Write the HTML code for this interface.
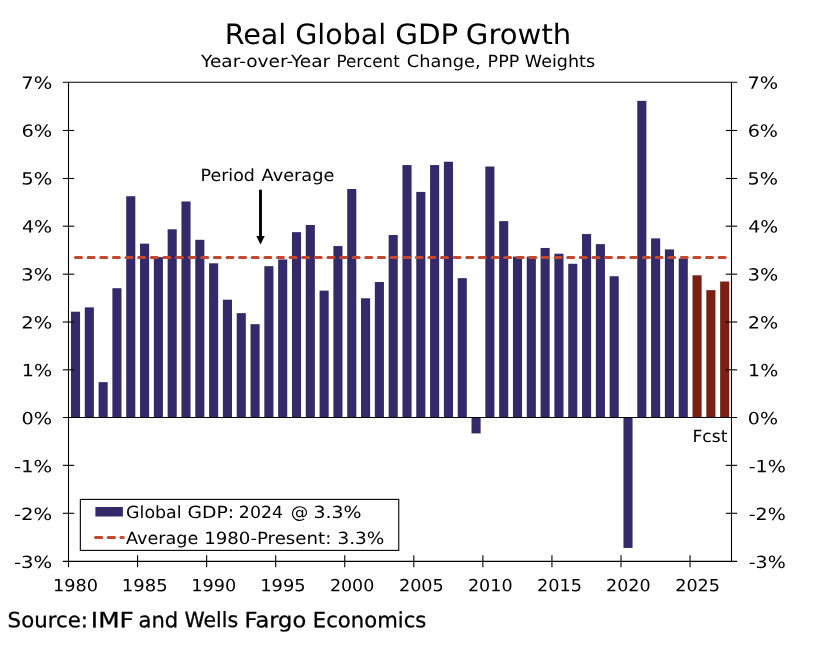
<!DOCTYPE html>
<html lang="en">
<head>
<meta charset="utf-8">
<title>Real Global GDP Growth</title>
<style>
html,body{margin:0;padding:0;background:#fff;}
body{width:820px;height:646px;overflow:hidden;}
svg{display:block;}
text{font-family:"DejaVu Sans", "Liberation Sans", sans-serif;fill:#000;stroke:none;text-rendering:geometricPrecision;}
#src{stroke:#000;stroke-width:0.3px;}
</style>
</head>
<body>
<svg width="820" height="646" viewBox="0 0 820 646">
<rect x="0" y="0" width="820" height="646" fill="#ffffff"/>

<g id="bars">
<rect x="70.96" y="311.70" width="9.10" height="105.80" fill="#342a6a"/>
<rect x="84.77" y="307.38" width="9.10" height="110.12" fill="#342a6a"/>
<rect x="98.58" y="382.14" width="9.10" height="35.36" fill="#342a6a"/>
<rect x="112.39" y="288.22" width="9.10" height="129.28" fill="#342a6a"/>
<rect x="126.21" y="196.21" width="9.10" height="221.29" fill="#342a6a"/>
<rect x="140.02" y="243.65" width="9.10" height="173.85" fill="#342a6a"/>
<rect x="153.83" y="257.07" width="9.10" height="160.43" fill="#342a6a"/>
<rect x="167.64" y="229.27" width="9.10" height="188.23" fill="#342a6a"/>
<rect x="181.46" y="201.48" width="9.10" height="216.02" fill="#342a6a"/>
<rect x="195.27" y="239.82" width="9.10" height="177.68" fill="#342a6a"/>
<rect x="209.08" y="263.30" width="9.10" height="154.20" fill="#342a6a"/>
<rect x="222.89" y="299.72" width="9.10" height="117.78" fill="#342a6a"/>
<rect x="236.71" y="313.13" width="9.10" height="104.37" fill="#342a6a"/>
<rect x="250.52" y="324.16" width="9.10" height="93.34" fill="#342a6a"/>
<rect x="264.33" y="266.17" width="9.10" height="151.33" fill="#342a6a"/>
<rect x="278.14" y="259.46" width="9.10" height="158.04" fill="#342a6a"/>
<rect x="291.96" y="232.15" width="9.10" height="185.35" fill="#342a6a"/>
<rect x="305.77" y="224.96" width="9.10" height="192.54" fill="#342a6a"/>
<rect x="319.58" y="290.61" width="9.10" height="126.89" fill="#342a6a"/>
<rect x="333.39" y="246.05" width="9.10" height="171.45" fill="#342a6a"/>
<rect x="347.21" y="189.02" width="9.10" height="228.48" fill="#342a6a"/>
<rect x="361.02" y="298.28" width="9.10" height="119.22" fill="#342a6a"/>
<rect x="374.83" y="281.99" width="9.10" height="135.51" fill="#342a6a"/>
<rect x="388.64" y="235.02" width="9.10" height="182.48" fill="#342a6a"/>
<rect x="402.46" y="165.06" width="9.10" height="252.44" fill="#342a6a"/>
<rect x="416.27" y="191.90" width="9.10" height="225.60" fill="#342a6a"/>
<rect x="430.08" y="165.06" width="9.10" height="252.44" fill="#342a6a"/>
<rect x="443.89" y="161.71" width="9.10" height="255.79" fill="#342a6a"/>
<rect x="457.71" y="278.15" width="9.10" height="139.35" fill="#342a6a"/>
<rect x="471.52" y="417.50" width="9.10" height="15.91" fill="#342a6a"/>
<rect x="485.33" y="166.50" width="9.10" height="251.00" fill="#342a6a"/>
<rect x="499.14" y="221.13" width="9.10" height="196.37" fill="#342a6a"/>
<rect x="512.96" y="256.59" width="9.10" height="160.91" fill="#342a6a"/>
<rect x="526.77" y="256.59" width="9.10" height="160.91" fill="#342a6a"/>
<rect x="540.58" y="247.96" width="9.10" height="169.54" fill="#342a6a"/>
<rect x="554.39" y="253.71" width="9.10" height="163.79" fill="#342a6a"/>
<rect x="568.21" y="263.78" width="9.10" height="153.72" fill="#342a6a"/>
<rect x="582.02" y="234.07" width="9.10" height="183.43" fill="#342a6a"/>
<rect x="595.83" y="244.13" width="9.10" height="173.37" fill="#342a6a"/>
<rect x="609.64" y="276.24" width="9.10" height="141.26" fill="#342a6a"/>
<rect x="623.46" y="417.50" width="9.10" height="130.44" fill="#342a6a"/>
<rect x="637.27" y="100.85" width="9.10" height="316.65" fill="#342a6a"/>
<rect x="651.08" y="238.38" width="9.10" height="179.12" fill="#342a6a"/>
<rect x="664.89" y="249.40" width="9.10" height="168.10" fill="#342a6a"/>
<rect x="678.71" y="258.51" width="9.10" height="158.99" fill="#342a6a"/>
<rect x="692.52" y="275.28" width="9.10" height="142.22" fill="#7b2015"/>
<rect x="706.33" y="290.13" width="9.10" height="127.37" fill="#7b2015"/>
<rect x="720.14" y="281.51" width="9.10" height="135.99" fill="#7b2015"/>
</g>
<line id="avg" x1="75.5" y1="257.4" x2="725.2" y2="257.4" stroke="#c4482d" stroke-width="3" stroke-linecap="round" stroke-dasharray="6 6.62"/>
<g id="axes" stroke="#000" stroke-width="1.1" fill="none">
<line x1="68.50" y1="82.30" x2="68.50" y2="567.35"/>
<line x1="731.50" y1="82.30" x2="731.50" y2="561.35"/>
<line x1="62.80" y1="82.30" x2="737.20" y2="82.30"/>
<line x1="62.80" y1="561.35" x2="737.20" y2="561.35"/>
<line x1="62.80" y1="417.50" x2="737.20" y2="417.50"/>
<line x1="62.80" y1="513.30" x2="74.20" y2="513.30"/>
<line x1="725.80" y1="513.30" x2="737.20" y2="513.30"/>
<line x1="62.80" y1="465.35" x2="74.20" y2="465.35"/>
<line x1="725.80" y1="465.35" x2="737.20" y2="465.35"/>
<line x1="62.80" y1="369.80" x2="74.20" y2="369.80"/>
<line x1="725.80" y1="369.80" x2="737.20" y2="369.80"/>
<line x1="62.80" y1="322.00" x2="74.20" y2="322.00"/>
<line x1="725.80" y1="322.00" x2="737.20" y2="322.00"/>
<line x1="62.80" y1="274.20" x2="74.20" y2="274.20"/>
<line x1="725.80" y1="274.20" x2="737.20" y2="274.20"/>
<line x1="62.80" y1="226.20" x2="74.20" y2="226.20"/>
<line x1="725.80" y1="226.20" x2="737.20" y2="226.20"/>
<line x1="62.80" y1="178.50" x2="74.20" y2="178.50"/>
<line x1="725.80" y1="178.50" x2="737.20" y2="178.50"/>
<line x1="62.80" y1="130.50" x2="74.20" y2="130.50"/>
<line x1="725.80" y1="130.50" x2="737.20" y2="130.50"/>
<line x1="137.56" y1="555.35" x2="137.56" y2="567.35"/>
<line x1="206.62" y1="555.35" x2="206.62" y2="567.35"/>
<line x1="275.69" y1="555.35" x2="275.69" y2="567.35"/>
<line x1="344.75" y1="555.35" x2="344.75" y2="567.35"/>
<line x1="413.81" y1="555.35" x2="413.81" y2="567.35"/>
<line x1="482.88" y1="555.35" x2="482.88" y2="567.35"/>
<line x1="551.94" y1="555.35" x2="551.94" y2="567.35"/>
<line x1="621.00" y1="555.35" x2="621.00" y2="567.35"/>
<line x1="690.06" y1="555.35" x2="690.06" y2="567.35"/>
</g>
<g id="anno">
<line x1="260.5" y1="189.7" x2="260.5" y2="237.5" stroke="#000" stroke-width="2.9"/>
<polygon points="256.3,236.1 264.7,236.1 260.5,244.4" fill="#000"/>
</g>
<g id="legend">
<rect x="80.35" y="499.4" width="318.4" height="51" fill="#fff" stroke="#000" stroke-width="1.1"/>
<rect x="95.4" y="507" width="27.5" height="9.5" fill="#342a6a"/>
<line x1="95.5" y1="537.4" x2="123.3" y2="537.4" stroke="#c4482d" stroke-width="3" stroke-linecap="round" stroke-dasharray="6.3 6.4"/>
</g>
<g id="labels" transform="matrix(1 0.0005 0 1 0 0)">
<text id="title" font-size="28"><tspan id="title_0" x="224.67" y="43.87" textLength="61.66" lengthAdjust="spacingAndGlyphs">Real</tspan> <tspan id="title_1" x="295.23" y="43.83" textLength="91.08" lengthAdjust="spacingAndGlyphs">Global</tspan> <tspan id="title_2" x="395.17" y="43.79" textLength="63.15" lengthAdjust="spacingAndGlyphs">GDP</tspan> <tspan id="title_3" x="465.86" y="43.74" textLength="105.46" lengthAdjust="spacingAndGlyphs">Growth</tspan></text>
<text id="sub" font-size="16.8"><tspan id="sub_0" x="201.10" y="66.87" textLength="129.06" lengthAdjust="spacingAndGlyphs">Year-over-Year</tspan> <tspan id="sub_1" x="336.44" y="66.82" textLength="63.31" lengthAdjust="spacingAndGlyphs">Percent</tspan> <tspan id="sub_2" x="406.86" y="66.78" textLength="73.69" lengthAdjust="spacingAndGlyphs">Change,</tspan> <tspan id="sub_3" x="487.62" y="66.75" textLength="31.68" lengthAdjust="spacingAndGlyphs">PPP</tspan> <tspan id="sub_4" x="524.84" y="66.72" textLength="70.21" lengthAdjust="spacingAndGlyphs">Weights</tspan></text>
<text id="yl-3" font-size="16.8"><tspan id="yl-3_0" x="14.01" y="568.03" textLength="38.31" lengthAdjust="spacingAndGlyphs">-3%</tspan></text>
<text id="yr-3" font-size="16.8"><tspan id="yr-3_0" x="748.69" y="567.67" textLength="37.01" lengthAdjust="spacingAndGlyphs">-3%</tspan></text>
<text id="yl-2" font-size="16.8"><tspan id="yl-2_0" x="14.01" y="520.10" textLength="38.31" lengthAdjust="spacingAndGlyphs">-2%</tspan></text>
<text id="yr-2" font-size="16.8"><tspan id="yr-2_0" x="748.69" y="519.74" textLength="37.01" lengthAdjust="spacingAndGlyphs">-2%</tspan></text>
<text id="yl-1" font-size="16.8"><tspan id="yl-1_0" x="14.02" y="472.17" textLength="38.26" lengthAdjust="spacingAndGlyphs">-1%</tspan></text>
<text id="yr-1" font-size="16.8"><tspan id="yr-1_0" x="748.70" y="471.81" textLength="37.12" lengthAdjust="spacingAndGlyphs">-1%</tspan></text>
<text id="yl0" font-size="16.8"><tspan id="yl0_0" x="21.58" y="424.24" textLength="30.58" lengthAdjust="spacingAndGlyphs">0%</tspan></text>
<text id="yr0" font-size="16.8"><tspan id="yr0_0" x="747.88" y="423.88" textLength="30.17" lengthAdjust="spacingAndGlyphs">0%</tspan></text>
<text id="yl1" font-size="16.8"><tspan id="yl1_0" x="21.77" y="376.31" textLength="30.38" lengthAdjust="spacingAndGlyphs">1%</tspan></text>
<text id="yr1" font-size="16.8"><tspan id="yr1_0" x="748.07" y="375.95" textLength="30.15" lengthAdjust="spacingAndGlyphs">1%</tspan></text>
<text id="yl2" font-size="16.8"><tspan id="yl2_0" x="21.37" y="328.38" textLength="30.95" lengthAdjust="spacingAndGlyphs">2%</tspan></text>
<text id="yr2" font-size="16.8"><tspan id="yr2_0" x="747.69" y="328.02" textLength="30.41" lengthAdjust="spacingAndGlyphs">2%</tspan></text>
<text id="yl3" font-size="16.8"><tspan id="yl3_0" x="21.28" y="280.45" textLength="30.88" lengthAdjust="spacingAndGlyphs">3%</tspan></text>
<text id="yr3" font-size="16.8"><tspan id="yr3_0" x="747.73" y="280.09" textLength="30.47" lengthAdjust="spacingAndGlyphs">3%</tspan></text>
<text id="yl4" font-size="16.8"><tspan id="yl4_0" x="21.93" y="232.52" textLength="30.30" lengthAdjust="spacingAndGlyphs">4%</tspan></text>
<text id="yr4" font-size="16.8"><tspan id="yr4_0" x="748.15" y="232.16" textLength="29.89" lengthAdjust="spacingAndGlyphs">4%</tspan></text>
<text id="yl5" font-size="16.8"><tspan id="yl5_0" x="21.28" y="184.59" textLength="31.11" lengthAdjust="spacingAndGlyphs">5%</tspan></text>
<text id="yr5" font-size="16.8"><tspan id="yr5_0" x="747.59" y="184.23" textLength="30.49" lengthAdjust="spacingAndGlyphs">5%</tspan></text>
<text id="yl6" font-size="16.8"><tspan id="yl6_0" x="21.52" y="136.66" textLength="30.76" lengthAdjust="spacingAndGlyphs">6%</tspan></text>
<text id="yr6" font-size="16.8"><tspan id="yr6_0" x="747.71" y="136.30" textLength="30.35" lengthAdjust="spacingAndGlyphs">6%</tspan></text>
<text id="yl7" font-size="16.8"><tspan id="yl7_0" x="21.27" y="88.73" textLength="30.99" lengthAdjust="spacingAndGlyphs">7%</tspan></text>
<text id="yr7" font-size="16.8"><tspan id="yr7_0" x="747.45" y="88.37" textLength="30.72" lengthAdjust="spacingAndGlyphs">7%</tspan></text>
<text id="x1980" font-size="16.8"><tspan id="x1980_0" x="52.97" y="591.26" textLength="45.08" lengthAdjust="spacingAndGlyphs">1980</tspan></text>
<text id="x1985" font-size="16.8"><tspan id="x1985_0" x="121.83" y="591.23" textLength="45.80" lengthAdjust="spacingAndGlyphs">1985</tspan></text>
<text id="x1990" font-size="16.8"><tspan id="x1990_0" x="191.17" y="591.19" textLength="45.02" lengthAdjust="spacingAndGlyphs">1990</tspan></text>
<text id="x1995" font-size="16.8"><tspan id="x1995_0" x="260.26" y="591.16" textLength="45.49" lengthAdjust="spacingAndGlyphs">1995</tspan></text>
<text id="x2000" font-size="16.8"><tspan id="x2000_0" x="329.95" y="591.12" textLength="44.38" lengthAdjust="spacingAndGlyphs">2000</tspan></text>
<text id="x2005" font-size="16.8"><tspan id="x2005_0" x="398.95" y="591.09" textLength="44.83" lengthAdjust="spacingAndGlyphs">2005</tspan></text>
<text id="x2010" font-size="16.8"><tspan id="x2010_0" x="467.97" y="591.05" textLength="44.59" lengthAdjust="spacingAndGlyphs">2010</tspan></text>
<text id="x2015" font-size="16.8"><tspan id="x2015_0" x="536.96" y="591.02" textLength="44.97" lengthAdjust="spacingAndGlyphs">2015</tspan></text>
<text id="x2020" font-size="16.8"><tspan id="x2020_0" x="606.11" y="590.99" textLength="44.53" lengthAdjust="spacingAndGlyphs">2020</tspan></text>
<text id="x2025" font-size="16.8"><tspan id="x2025_0" x="675.18" y="590.95" textLength="44.83" lengthAdjust="spacingAndGlyphs">2025</tspan></text>
<text id="pa" font-size="16.8"><tspan id="pa_0" x="200.52" y="180.79" textLength="54.38" lengthAdjust="spacingAndGlyphs">Period</tspan> <tspan id="pa_1" x="261.57" y="180.75" textLength="72.84" lengthAdjust="spacingAndGlyphs">Average</tspan></text>
<text id="fc" font-size="16.8"><tspan id="fc_0" x="692.45" y="441.54" textLength="34.91" lengthAdjust="spacingAndGlyphs">Fcst</tspan></text>
<text id="l1" font-size="16.8"><tspan id="l1_0" x="126.14" y="517.92" textLength="55.46" lengthAdjust="spacingAndGlyphs">Global</tspan> <tspan id="l1_1" x="187.44" y="517.89" textLength="46.66" lengthAdjust="spacingAndGlyphs">GDP:</tspan> <tspan id="l1_2" x="238.85" y="517.87" textLength="44.18" lengthAdjust="spacingAndGlyphs">2024</tspan> <tspan id="l1_3" x="290.81" y="517.85" textLength="17.57" lengthAdjust="spacingAndGlyphs">@</tspan> <tspan id="l1_4" x="313.41" y="517.83" textLength="48.05" lengthAdjust="spacingAndGlyphs">3.3%</tspan></text>
<text id="l2" font-size="16.8"><tspan id="l2_0" x="126.10" y="543.92" textLength="72.26" lengthAdjust="spacingAndGlyphs">Average</tspan> <tspan id="l2_1" x="204.20" y="543.87" textLength="127.08" lengthAdjust="spacingAndGlyphs">1980-Present:</tspan> <tspan id="l2_2" x="337.43" y="543.82" textLength="46.96" lengthAdjust="spacingAndGlyphs">3.3%</tspan></text>
<text id="src" font-size="21"><tspan id="src_0" x="7.61" y="627.28" textLength="80.34" lengthAdjust="spacingAndGlyphs">Source:</tspan> <tspan id="src_1" x="90.82" y="627.24" textLength="43.03" lengthAdjust="spacingAndGlyphs">IMF</tspan> <tspan id="src_2" x="138.48" y="627.22" textLength="39.67" lengthAdjust="spacingAndGlyphs">and</tspan> <tspan id="src_3" x="184.42" y="627.19" textLength="53.69" lengthAdjust="spacingAndGlyphs">Wells</tspan> <tspan id="src_4" x="244.47" y="627.16" textLength="61.75" lengthAdjust="spacingAndGlyphs">Fargo</tspan> <tspan id="src_5" x="312.87" y="627.11" textLength="113.48" lengthAdjust="spacingAndGlyphs">Economics</tspan></text>
</g>
</svg>
</body>
</html>
